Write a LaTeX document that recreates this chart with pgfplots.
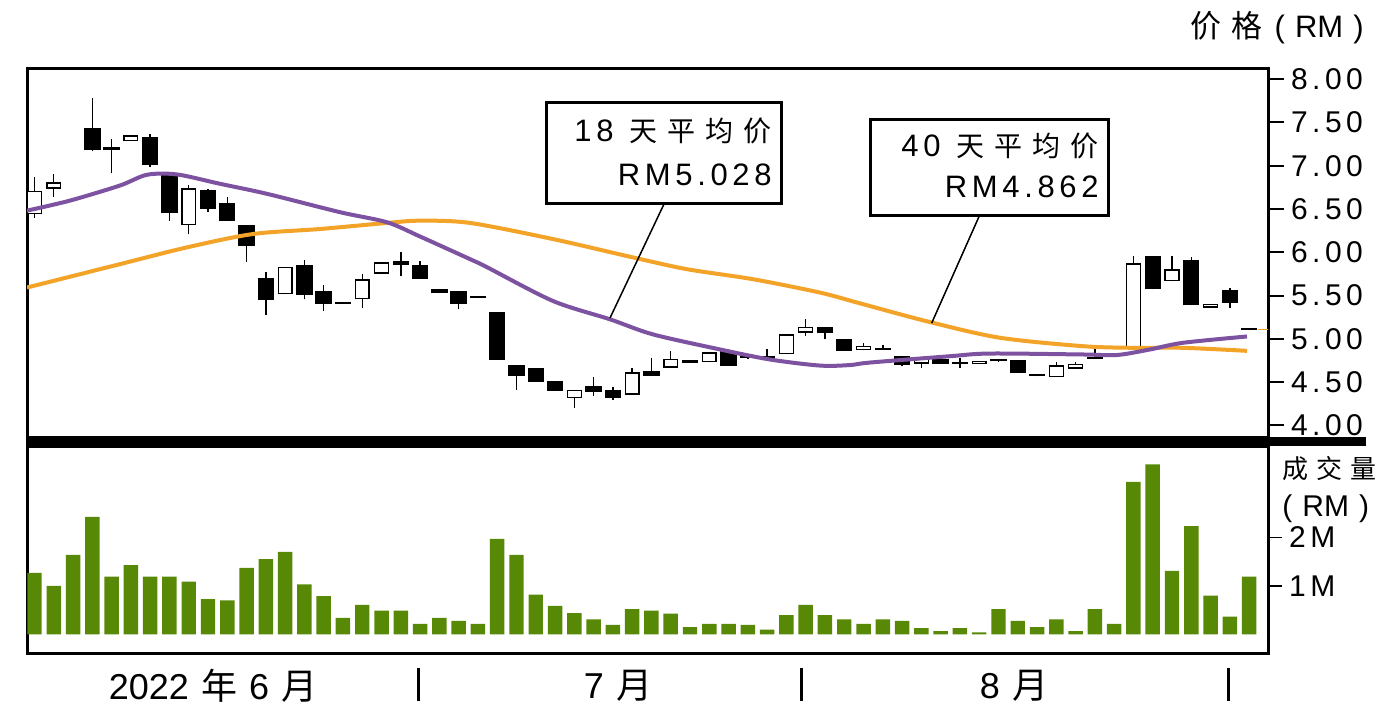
\documentclass[border=0pt]{standalone}
\usepackage{fontspec}
\setmainfont{Liberation Sans}
\newfontfamily\cjk{Noto Sans CJK SC}
\newfontfamily\lsp[LetterSpace=15]{Liberation Sans}
\usepackage{pgfplots}
\pgfplotsset{compat=1.18}
\usepackage{pgfplotstable}
\definecolor{volg}{RGB}{87,137,7}
\definecolor{mapurple}{RGB}{125,82,160}
\definecolor{maorange}{RGB}{242,163,40}

\pgfplotstableread{
x O H L C
3 7.437 7.784 7.170 7.185
4 7.216 7.312 6.915 7.177
6 7.332 7.370 6.984 7.011
7 6.907 6.926 6.365 6.454
9 6.721 6.730 6.463 6.501
10 6.570 6.637 6.360 6.365
11 6.315 6.320 5.890 6.075
12 5.701 5.774 5.272 5.449
14 5.855 5.910 5.457 5.504
15 5.550 5.620 5.322 5.408
16 5.410 5.410 5.405 5.405
19 5.901 6.006 5.721 5.852
20 5.852 5.901 5.689 5.689
21 5.581 5.581 5.527 5.527
22 5.550 5.550 5.341 5.399
23 5.480 5.480 5.475 5.475
24 5.310 5.310 4.762 4.762
25 4.704 4.704 4.414 4.568
26 4.666 4.666 4.503 4.503
27 4.510 4.510 4.402 4.402
29 4.452 4.561 4.336 4.387
30 4.414 4.440 4.300 4.318
32 4.626 4.781 4.576 4.576
34 4.754 4.754 4.723 4.723
36 4.858 4.858 4.692 4.692
37 4.783 4.783 4.779 4.779
38 4.777 4.878 4.762 4.773
41 5.141 5.141 4.994 5.063
42 4.994 4.994 4.866 4.866
44 4.880 4.924 4.876 4.876
45 4.800 4.800 4.684 4.704
47 4.770 4.770 4.712 4.712
48 4.735 4.785 4.666 4.712
50 4.744 4.744 4.740 4.740
51 4.754 4.754 4.608 4.608
52 4.599 4.599 4.568 4.568
55 4.772 4.878 4.768 4.768
56 4.802 4.830 4.798 4.798
58 5.959 5.959 5.573 5.573
60 5.913 5.944 5.388 5.388
62 5.565 5.593 5.361 5.419
63 5.125 5.125 5.098 5.098
}\canddown

\pgfplotstableread{
x O H L C
0 6.443 6.875 6.400 6.713
1 6.733 6.899 6.637 6.810
5 7.281 7.351 7.281 7.351
8 6.315 6.779 6.211 6.741
13 5.515 5.832 5.515 5.832
17 5.457 5.747 5.361 5.689
18 5.755 5.883 5.755 5.883
28 4.318 4.414 4.202 4.414
31 4.356 4.666 4.356 4.614
33 4.666 4.858 4.666 4.770
35 4.730 4.846 4.730 4.846
39 4.820 5.052 4.820 5.052
40 5.071 5.226 5.032 5.141
43 4.870 4.955 4.870 4.920
46 4.715 4.770 4.666 4.770
49 4.712 4.750 4.712 4.750
53 4.561 4.730 4.561 4.696
54 4.654 4.735 4.654 4.715
57 4.886 5.959 4.886 5.875
59 5.663 5.959 5.663 5.805
61 5.361 5.408 5.361 5.408
}\candup

\pgfplotstableread{
x V
0 1.27
1 1.00
2 1.64
3 2.42
4 1.19
5 1.43
6 1.19
7 1.19
8 1.09
9 0.73
10 0.70
11 1.37
12 1.55
13 1.70
14 1.03
15 0.79
16 0.34
17 0.61
18 0.49
19 0.49
20 0.22
21 0.34
22 0.28
23 0.22
24 1.97
25 1.64
26 0.82
27 0.59
28 0.44
29 0.31
30 0.20
31 0.52
32 0.49
33 0.43
34 0.15
35 0.22
36 0.22
37 0.20
38 0.10
39 0.40
40 0.61
41 0.40
42 0.31
43 0.22
44 0.31
45 0.28
46 0.13
47 0.07
48 0.13
49 0.045
50 0.52
51 0.28
52 0.15
53 0.31
54 0.07
55 0.52
56 0.22
57 3.14
58 3.50
59 1.31
60 2.23
61 0.80
62 0.37
63 1.19
}\voltab

\newcommand{\gap}{\hspace{5pt}}
\pgfplotsset{candle/.style={only marks, mark=*, mark size=0pt,
  mark options={draw=none, fill=none}, forget plot,
  error bars/y dir=plus, error bars/y explicit, error bars/error mark=none}}

\begin{document}
\begin{tikzpicture}
\useasboundingbox (0,0) rectangle (694.5pt,-360pt);

% ---------- price panel ----------
\begin{axis}[
  at={(13.5pt,-34pt)}, anchor=north west,
  width=620.5pt, height=184.5pt, scale only axis,
  xmin=-0.389, xmax=63.98, ymin=3.867, ymax=8.128,
  axis line style={line width=1.5pt},
  xtick=\empty,
  ytick={4,4.5,5,5.5,6,6.5,7,7.5,8},
  ytick pos=right, yticklabel pos=right,
  tick align=outside,
  major tick length=8pt,
  major tick style={black, line width=1pt},
  yticklabel style={font=\lsp\fontsize{15}{15}\selectfont, black,
    /pgf/number format/.cd, fixed, fixed zerofill, precision=2, assume math mode=true},
]
% wicks
\addplot [candle, error bars/error bar style={black, line width=0.7pt}]
  table [x=x, y=L, y error plus expr={\thisrow{H}-\thisrow{L}}] {\canddown};
\addplot [candle, error bars/error bar style={black, line width=0.7pt}]
  table [x=x, y=L, y error plus expr={\thisrow{H}-\thisrow{L}}] {\candup};
% black bodies
\addplot [candle, error bars/error bar style={black, line width=8.2pt}]
  table [x=x, y expr={min(\thisrow{O},\thisrow{C})},
         y error plus expr={max(abs(\thisrow{O}-\thisrow{C}),0.024)}] {\canddown};
% hollow bodies
\addplot [candle, error bars/error bar style={black, line width=7.6pt}]
  table [x=x, y=O, y error plus expr={max(\thisrow{C}-\thisrow{O},0.024)}] {\candup};
\addplot [candle, error bars/error bar style={white, line width=6.2pt}]
  table [x=x, y expr={\thisrow{O}+0.0162},
         y error plus expr={max(\thisrow{C}-\thisrow{O}-0.0324,0)}] {\candup};
% 40-day MA
\addplot [maorange, line width=2pt, smooth, tension=0.5] coordinates {
(-0.39,5.593) (4.43,5.863) (7.91,6.057) (11.33,6.211) (14.81,6.269)
(18.28,6.339) (20.0,6.365) (22.59,6.339) (26.89,6.153) (31.04,5.941)
(33.84,5.805) (37.27,5.689) (40.74,5.535) (42.81,5.411) (46.45,5.194)
(50.08,5.013) (54.38,4.916) (56.98,4.897) (59.57,4.897) (62.89,4.862)};
% 18-day MA
\addplot [mapurple, line width=2pt, smooth, tension=0.5] coordinates {
(-0.39,6.481) (1.84,6.597) (4.43,6.771) (5.83,6.895) (7.39,6.899)
(9.62,6.791) (12.06,6.675) (15.85,6.463) (18.28,6.347) (20.0,6.182)
(22.59,5.921) (23.47,5.828) (26.89,5.438) (29.85,5.226) (32.08,5.052)
(35.56,4.878) (38.15,4.762) (40.74,4.692) (42.30,4.698) (43.34,4.727)
(47.48,4.800) (49.56,4.831) (54.38,4.820) (56.15,4.814) (57.86,4.878)
(59.57,4.955) (62.89,5.028)};
% last price marker
\addplot [maorange, line width=0.6pt] coordinates {(63.45,5.11) (64.5,5.11)};
\end{axis}

% ---------- volume panel ----------
\begin{axis}[
  at={(13.5pt,-223pt)}, anchor=north west,
  width=620.5pt, height=103.5pt, scale only axis,
  xmin=-0.389, xmax=63.98, ymin=-0.381, ymax=3.879,
  axis line style={line width=1.5pt},
  xtick=\empty,
  ytick={1,2}, yticklabels={1M,2M},
  ytick pos=right, yticklabel pos=right,
  tick align=outside,
  major tick length=7pt,
  major tick style={black, line width=0.75pt},
  yticklabel style={font=\lsp\fontsize{15}{15}\selectfont, black},
]
\addplot [ybar, bar width=0.75, fill=volg, draw=none] table [x=x, y=V] {\voltab};
\end{axis}

% ---------- annotations (pixel coordinates) ----------
\begin{scope}[x=0.5pt, y=-0.5pt]
  \fill[black] (26,437) rectangle (1366,446);
  % boxes
  \draw[line width=1.5pt, fill=white] (546,102) rectangle (781,203);
  \node[anchor=east, inner sep=0pt] at (772,131)
    {\fontsize{15.5}{16}\selectfont{\lsp 18}\hspace{8pt}{\cjk\fontsize{14}{16}\selectfont 天\gap 平\gap 均\gap 价}};
  \node[anchor=east, inner sep=0pt] at (772,175)
    {\lsp\fontsize{15.5}{16}\selectfont RM5.028};
  \draw[line width=0.75pt] (664.5,203) -- (610,318);

  \draw[line width=1.5pt, fill=white] (870,119) rectangle (1108,215);
  \node[anchor=east, inner sep=0pt] at (1099,146)
    {\fontsize{15.5}{16}\selectfont{\lsp 40}\hspace{8pt}{\cjk\fontsize{14}{16}\selectfont 天\gap 平\gap 均\gap 价}};
  \node[anchor=east, inner sep=0pt] at (1099,187)
    {\lsp\fontsize{15.5}{16}\selectfont RM4.862};
  \draw[line width=0.75pt] (979.7,215) -- (931.7,323);

  % axis titles
  \node[anchor=east, inner sep=0pt] at (1364,28)
    {\fontsize{15.5}{16}\selectfont{\cjk 价\gap 格}\hspace{6pt}(\hspace{5pt}RM\hspace{5pt})};
  \node[anchor=west, inner sep=0pt] at (1282,469)
    {\cjk\fontsize{13}{15}\selectfont 成\hspace{4pt}交\hspace{4pt}量};
  \node[anchor=west, inner sep=0pt] at (1282,509)
    {\fontsize{15}{16}\selectfont(\hspace{5pt}RM\hspace{5pt})};

  % month labels
  \node[inner sep=0pt] at (213,686)
    {\fontsize{18}{20}\selectfont 2022\hspace{6pt}{\cjk 年}\hspace{6pt}6\hspace{6pt}{\cjk 月}};
  \node[inner sep=0pt] at (618,686)
    {\fontsize{18}{20}\selectfont 7\hspace{6pt}{\cjk 月}};
  \node[inner sep=0pt] at (1014,686)
    {\fontsize{18}{20}\selectfont 8\hspace{6pt}{\cjk 月}};
  \draw[line width=1.5pt] (418,668) -- (418,701);
  \draw[line width=1.5pt] (801,668) -- (801,701);
  \draw[line width=1.5pt] (1228.5,668) -- (1228.5,701);
\end{scope}
\end{tikzpicture}
\end{document}
